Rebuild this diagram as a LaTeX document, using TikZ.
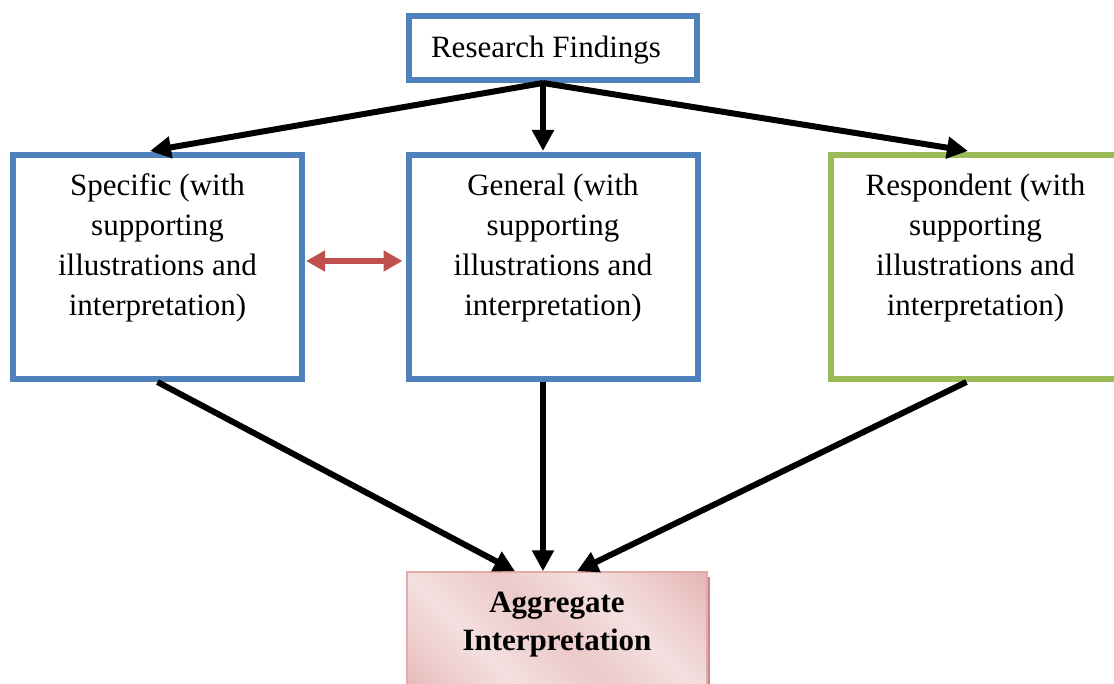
\documentclass[tikz,border=0pt]{standalone}
\usepackage{fontspec}
\setmainfont{Liberation Serif}
\usetikzlibrary{arrows.meta}
\definecolor{boxblue}{HTML}{4F81BD}
\definecolor{boxgreen}{HTML}{9BBB59}
\definecolor{arrred}{HTML}{C0504D}
\definecolor{pinklight}{HTML}{F4E0E0}
\definecolor{pinkdark}{HTML}{D99694}
\definecolor{pinkshadow}{HTML}{C98886}
\pgfdeclarehorizontalshading{aggshade}{100bp}{color(0bp)=(pinkdark); color(35bp)=(pinklight); color(50bp)=(pinklight!70!pinkdark); color(65bp)=(pinklight); color(100bp)=(pinkdark)}
\tikzset{
  box/.style={draw=boxblue, line width=6pt, fill=white, minimum width=289pt, minimum height=224pt, inner sep=0pt},
  topbox/.style={draw=boxblue, line width=6pt, fill=white, minimum width=288pt, minimum height=64pt, inner sep=0pt},
  txt/.style={align=center, inner sep=0pt, font=\fontsize{31}{40}\selectfont},
  boldtxt/.style={align=center, inner sep=0pt, font=\fontsize{31}{38}\selectfont\bfseries},
  blk/.style={line width=6pt, -{Triangle[length=21pt,width=21pt]}},
  redarr/.style={arrred, line width=5.5pt, {Triangle[length=19pt,width=20pt]}-{Triangle[length=19pt,width=20pt]}},
  aggbox/.style={draw=pinkdark!80!white, line width=1.5pt, shading=aggshade, shading angle=45, minimum width=300pt, minimum height=130pt, inner sep=0pt}
}
\begin{document}
\begin{tikzpicture}[x=1pt,y=-1pt]
\clip (0,0) rectangle (1114,684);
\fill[white] (0,0) rectangle (1114,684);
% boxes
\node[topbox] (rf) at (553,48) {};
\node[txt] (rft) at (546,50) {Research Findings};
\node[box] (spec) at (157.5,267) {};
\node[txt] (spect) at (157.5,248) {Specific (with\\supporting\\illustrations and\\interpretation)};
\node[box] (gen) at (553,267) {};
\node[txt] (gent) at (553,248) {General (with\\supporting\\illustrations and\\interpretation)};
\node[box, draw=boxgreen] (resp) at (975.5,267) {};
\node[txt] (respt) at (975.5,248) {Respondent (with\\supporting\\illustrations and\\interpretation)};
% aggregate
\fill[pinkshadow] (562,577) rectangle (710,700);
\node[aggbox] (agg) at (557,637) {};
\node[boldtxt] (aggt) at (557,625) {Aggregate\\Interpretation};
% connectors
\coordinate (rfs) at ([xshift=-10pt]rf.south);
\draw[blk] (rfs) -- ([xshift=-7.5pt,yshift=1pt]spec.north);
\draw[blk] (rfs) -- ([xshift=-10pt,yshift=1pt]gen.north);
\draw[blk] (rfs) -- ([xshift=-7.5pt,yshift=1pt]resp.north);
\draw[blk] (spec.south) -- ([xshift=-42pt]agg.north);
\draw[blk] ([xshift=-10pt]gen.south) -- ([xshift=-14pt]agg.north);
\draw[blk] ([xshift=-9pt]resp.south) -- ([xshift=20pt]agg.north);
\draw[redarr] ([xshift=1pt,yshift=6pt]spec.east) -- ([xshift=-3pt,yshift=6pt]gen.west);
\end{tikzpicture}
\end{document}
